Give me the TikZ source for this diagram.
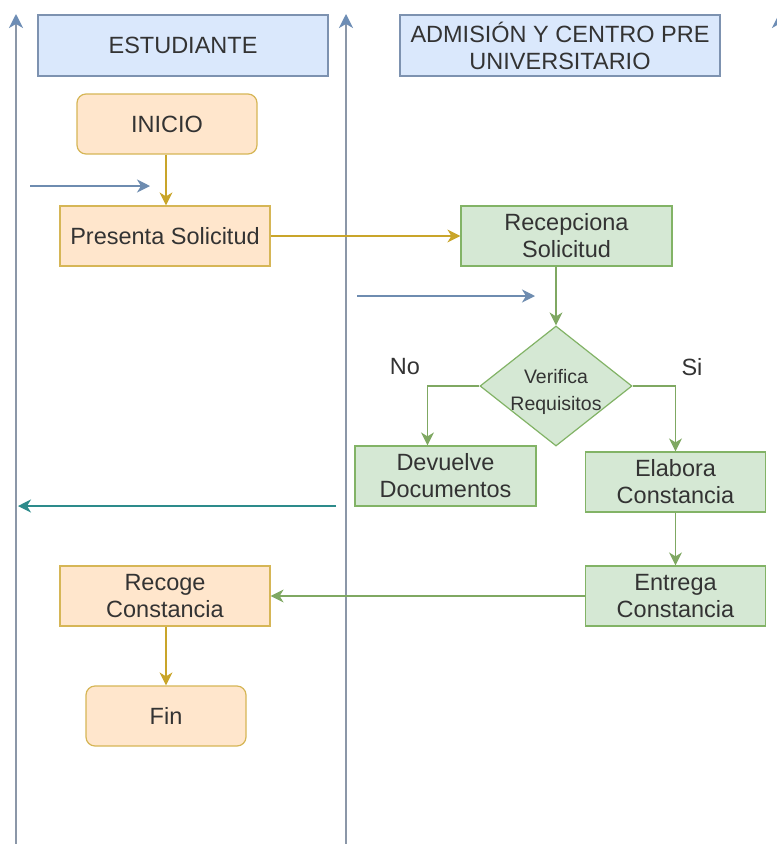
\documentclass[tikz,border=0pt]{standalone}
\usepackage{fontspec}
\setmainfont{Liberation Sans}
\usetikzlibrary{arrows.meta,shapes.geometric}
\definecolor{hdrfill}{HTML}{DAE8FC}
\definecolor{hdrdraw}{HTML}{7D92B0}
\definecolor{orfill}{HTML}{FFE6CC}
\definecolor{ordraw}{HTML}{D6B656}
\definecolor{orline}{HTML}{C9A52A}
\definecolor{grfill}{HTML}{D5E8D4}
\definecolor{grdraw}{HTML}{82B366}
\definecolor{grline}{HTML}{7FA862}
\definecolor{laneline}{HTML}{8B97A8}
\definecolor{lanehead}{HTML}{6D8DB5}
\definecolor{bluearr}{HTML}{6E8CB0}
\definecolor{tealarr}{HTML}{2D8B8B}
\definecolor{txt}{HTML}{333333}
\tikzset{
  every node/.style={font=\fontsize{23.5}{27}\selectfont, text=txt, align=center, inner sep=0pt},
  hdr/.style={draw=hdrdraw, fill=hdrfill, line width=1.2pt, minimum height=61pt},
  orbox/.style={draw=ordraw, fill=orfill, line width=1.2pt, minimum height=60pt},
  orround/.style={orbox, rounded corners=9pt},
  grbox/.style={draw=grdraw, fill=grfill, line width=1.2pt, minimum height=60pt},
  tip/.style={-{Stealth[length=13pt, width=13pt, inset=4pt]}},
  orarr/.style={tip, draw=orline, line width=1.3pt},
  grarr/.style={tip, draw=grline, line width=1.3pt},
  bluearrow/.style={tip, draw=bluearr, line width=1.3pt},
  tealarrow/.style={tip, draw=tealarr, line width=1.3pt},
  lane/.style={-{Stealth[length=14pt, width=14pt, inset=4pt, color=lanehead]}, draw=laneline, line width=1.5pt},
}
\begin{document}
\begin{tikzpicture}[x=1pt, y=-1pt]
\useasboundingbox[fill=white] (0,0) rectangle (777,844);

% lane lines
\coordinate (l1b) at (16,844);  \coordinate (l1t) at (16,14);
\coordinate (l2b) at (346,844); \coordinate (l2t) at (346,14);
\coordinate (l3b) at (779,844); \coordinate (l3t) at (779,14);
\draw[lane] (l1b) -- (l1t);
\draw[lane] (l2b) -- (l2t);
\draw[lane] (l3b) -- (l3t);

% headers
\node[hdr, minimum width=290pt] (hest) at (183,45.5) {ESTUDIANTE};
\node[hdr, minimum width=320pt] (hadm) at (560,45.5) {ADMISIÓN Y CENTRO PRE\\UNIVERSITARIO};

% nodes
\node[orround, minimum width=180pt] (ini) at (167,124) {INICIO};
\node[orbox, minimum width=210pt] (pre) at (165,236) {Presenta Solicitud};
\node[grbox, minimum width=211pt] (rec) at (566.5,236) {Recepciona\\Solicitud};
\node[diamond, draw=grdraw, fill=grfill, line width=1.2pt, minimum width=152pt, minimum height=120pt, aspect=1.27] (dia) at (556,386) {};
\node[font=\fontsize{19.5}{27}\selectfont] (diat) at (556,392) {Verifica\\Requisitos};
\node[grbox, minimum width=181pt] (dev) at (445.5,476) {Devuelve\\Documentos};
\node[grbox, minimum width=180pt] (ela) at (675.5,482) {Elabora\\Constancia};
\node[grbox, minimum width=180pt] (ent) at (675.5,596) {Entrega\\Constancia};
\node[orbox, minimum width=210pt] (rco) at (165,596) {Recoge\\Constancia};
\node[orround, minimum width=160pt] (fin) at (166,716) {Fin};

\node (no) at (405,367) {No};
\node (si) at (692,367) {Si};

% connectors
\draw[orarr] (ini.south -| 166,0) -- (pre.north -| 166,0);
\draw[orarr] (pre.east) -- (rec.west);
\draw[grarr] (dia.north |- rec.south) -- (dia.north);
\coordinate (devin) at ([xshift=-18pt]dev.north);
\draw[grarr] (dia.west) -| (devin);
\draw[grarr] (dia.east) -| (ela.north);
\draw[grarr] (ela.south) -- (ent.north);
\draw[grarr] (ent.west) -- (rco.east);
\draw[orarr] (rco.south -| 166,0) -- (fin.north -| 166,0);

% free arrows
\coordinate (b1s) at (30,186);  \coordinate (b1e) at (150,186);
\coordinate (b2s) at (357,296); \coordinate (b2e) at (535,296);
\coordinate (t1s) at (336,506); \coordinate (t1e) at (18,506);
\draw[bluearrow] (b1s) -- (b1e);
\draw[bluearrow] (b2s) -- (b2e);
\draw[tealarrow] (t1s) -- (t1e);
\end{tikzpicture}
\end{document}
